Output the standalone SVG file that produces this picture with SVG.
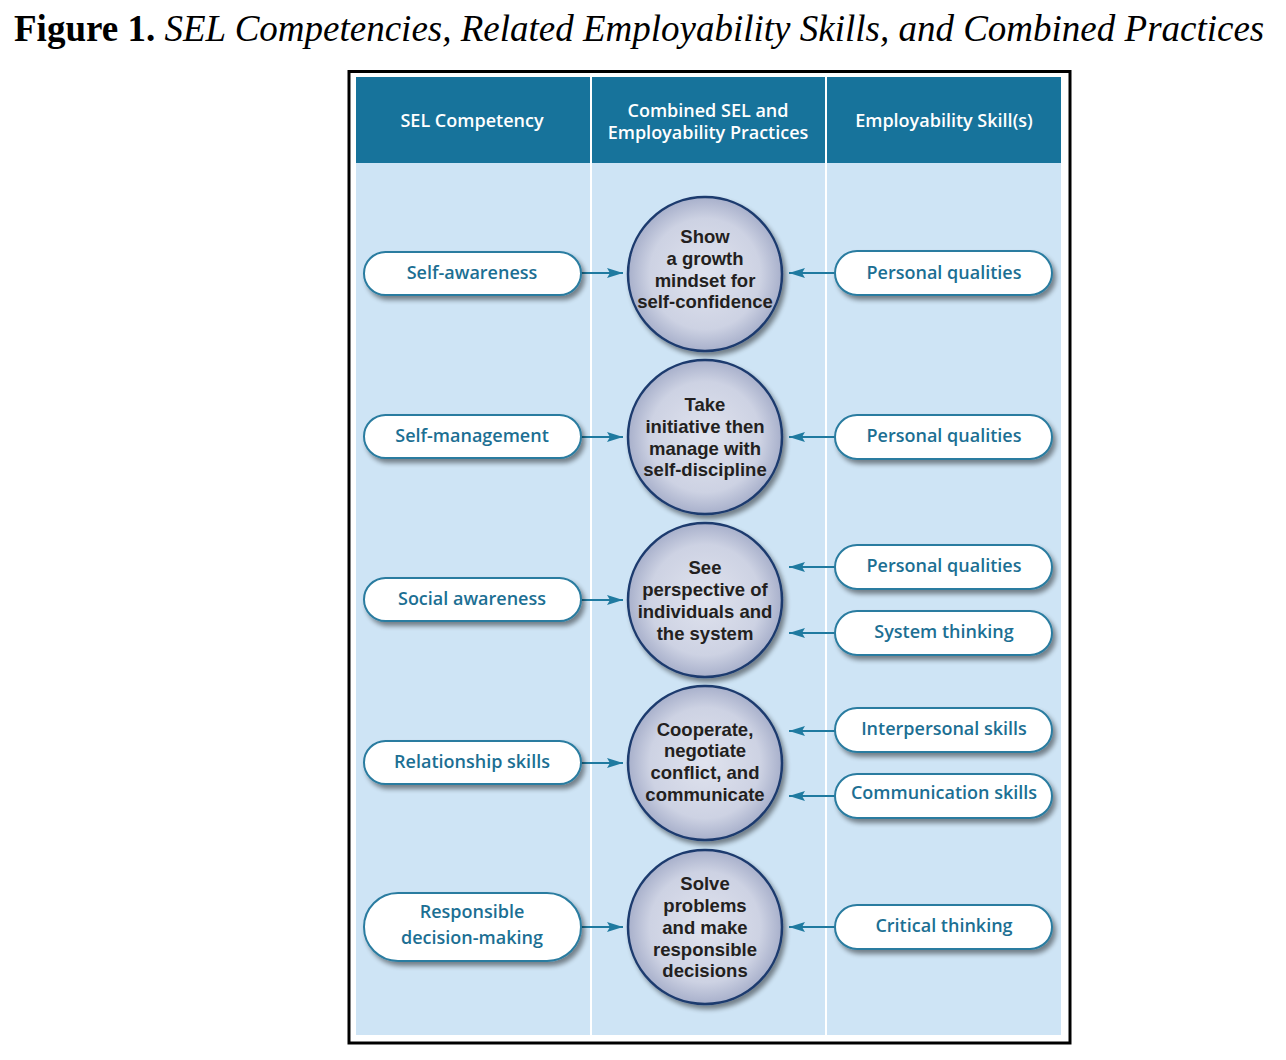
<svg xmlns="http://www.w3.org/2000/svg" width="1286" height="1060" viewBox="0 0 1286 1060">
<defs>
  <radialGradient id="cg" cx="50%" cy="50%" r="50%">
    <stop offset="0" stop-color="#e0e3ee"/>
    <stop offset="0.72" stop-color="#cdd2e3"/>
    <stop offset="1" stop-color="#a8b0cb"/>
  </radialGradient>
  <filter id="sh" x="-20%" y="-20%" width="150%" height="160%">
    <feGaussianBlur in="SourceAlpha" stdDeviation="2.5"/>
    <feOffset dx="3" dy="4" result="b"/>
    <feComponentTransfer><feFuncA type="linear" slope="0.45"/></feComponentTransfer>
    <feMerge><feMergeNode/><feMergeNode in="SourceGraphic"/></feMerge>
  </filter>
  <marker id="ah" viewBox="0 0 16 10" refX="16" refY="5" markerWidth="16" markerHeight="10" markerUnits="userSpaceOnUse" orient="auto">
    <path d="M0,0 L16,5 L0,10 L3,5 Z" fill="#1f7aa0"/>
  </marker>
</defs>
<style>
  .title{font-family:"Liberation Serif",serif;font-size:37px;fill:#000}
  .hdr{font-family:"Open Sans","Noto Sans",sans-serif;font-size:18px;font-weight:600;fill:#fff;text-anchor:middle}
  .pill{fill:#fff;stroke:#2a7ca0;stroke-width:2}
  .pt{font-family:"Open Sans","Noto Sans",sans-serif;font-size:18px;font-weight:600;fill:#1c6f93;text-anchor:middle}
  .circ{fill:url(#cg);stroke:#1c3a6e;stroke-width:2.5}
  .ct{font-family:"Liberation Sans",Arial,sans-serif;font-size:18.5px;font-weight:bold;fill:#231f20;text-anchor:middle}
  .conn line{stroke:#1f7aa0;stroke-width:2.2;marker-end:url(#ah)}
</style>
<rect width="1286" height="1060" fill="#fff"/>
<text class="title" x="14" y="41"><tspan font-weight="bold">Figure 1.</tspan><tspan font-style="italic"> SEL Competencies, Related Employability Skills, and Combined Practices</tspan></text>

<g id="frame">
  <rect x="349" y="71.5" width="721" height="971.5" fill="#fff" stroke="#000" stroke-width="3"/>
  <rect x="356" y="77" width="234" height="958" fill="#cee4f5"/>
  <rect x="592" y="77" width="233" height="958" fill="#cee4f5"/>
  <rect x="827" y="77" width="234" height="958" fill="#cee4f5"/>
  <rect x="356" y="77" width="234" height="86" fill="#17739b"/>
  <rect x="592" y="77" width="233" height="86" fill="#17739b"/>
  <rect x="827" y="77" width="234" height="86" fill="#17739b"/>
</g>
<g id="headers">
  <text class="hdr" x="472" y="127">SEL Competency</text>
  <text class="hdr" x="708" y="116.5"><tspan x="708">Combined SEL and</tspan><tspan x="708" dy="22">Employability Practices</tspan></text>
  <text class="hdr" x="944" y="127">Employability Skill(s)</text>
</g>

<g class="conn" id="connectors">
  <line x1="581" y1="273" x2="623" y2="273"/>
  <line x1="581" y1="437" x2="623" y2="437"/>
  <line x1="581" y1="600" x2="623" y2="600"/>
  <line x1="581" y1="763" x2="623" y2="763"/>
  <line x1="581" y1="927" x2="623" y2="927"/>
  <line x1="835" y1="273" x2="789" y2="273"/>
  <line x1="835" y1="437" x2="789" y2="437"/>
  <line x1="835" y1="567" x2="789" y2="567"/>
  <line x1="835" y1="633" x2="789" y2="633"/>
  <line x1="835" y1="731" x2="789" y2="731"/>
  <line x1="835" y1="796" x2="789" y2="796"/>
  <line x1="835" y1="927" x2="789" y2="927"/>
</g>

<g id="sel-self-awareness"><rect class="pill" filter="url(#sh)" x="364" y="252" width="217" height="43" rx="21.5"/><text class="pt" x="472" y="279">Self-awareness</text></g>
<g id="sel-self-management"><rect class="pill" filter="url(#sh)" x="364" y="415" width="217" height="43" rx="21.5"/><text class="pt" x="472" y="442">Self-management</text></g>
<g id="sel-social-awareness"><rect class="pill" filter="url(#sh)" x="364" y="578" width="217" height="43" rx="21.5"/><text class="pt" x="472" y="605">Social awareness</text></g>
<g id="sel-relationship"><rect class="pill" filter="url(#sh)" x="364" y="741" width="217" height="43" rx="21.5"/><text class="pt" x="472" y="768">Relationship skills</text></g>
<g id="sel-decision"><rect class="pill" filter="url(#sh)" x="364" y="893" width="217" height="68" rx="34"/><text class="pt" x="472" y="918"><tspan x="472">Responsible</tspan><tspan x="472" dy="26">decision-making</tspan></text></g>

<g id="c1"><circle class="circ" filter="url(#sh)" cx="705" cy="274" r="77"/><text class="ct" x="705" y="243"><tspan x="705">Show</tspan><tspan x="705" dy="22">a growth</tspan><tspan x="705" dy="22">mindset for</tspan><tspan x="705" dy="21">self-confidence</tspan></text></g>
<g id="c2"><circle class="circ" filter="url(#sh)" cx="705" cy="437" r="77"/><text class="ct" x="705" y="411"><tspan x="705">Take</tspan><tspan x="705" dy="22">initiative then</tspan><tspan x="705" dy="22">manage with</tspan><tspan x="705" dy="21">self-discipline</tspan></text></g>
<g id="c3"><circle class="circ" filter="url(#sh)" cx="705" cy="600" r="77"/><text class="ct" x="705" y="574"><tspan x="705">See</tspan><tspan x="705" dy="22">perspective of</tspan><tspan x="705" dy="22">individuals and</tspan><tspan x="705" dy="22">the system</tspan></text></g>
<g id="c4"><circle class="circ" filter="url(#sh)" cx="705" cy="763" r="77"/><text class="ct" x="705" y="736"><tspan x="705">Cooperate,</tspan><tspan x="705" dy="21">negotiate</tspan><tspan x="705" dy="22">conflict, and</tspan><tspan x="705" dy="22">communicate</tspan></text></g>
<g id="c5"><circle class="circ" filter="url(#sh)" cx="705" cy="927" r="77"/><text class="ct" x="705" y="890"><tspan x="705">Solve</tspan><tspan x="705" dy="22">problems</tspan><tspan x="705" dy="22">and make</tspan><tspan x="705" dy="22">responsible</tspan><tspan x="705" dy="21">decisions</tspan></text></g>

<g id="emp1"><rect class="pill" filter="url(#sh)" x="835" y="251" width="217" height="44" rx="22"/><text class="pt" x="944" y="279">Personal qualities</text></g>
<g id="emp2"><rect class="pill" filter="url(#sh)" x="835" y="415" width="217" height="44" rx="22"/><text class="pt" x="944" y="442">Personal qualities</text></g>
<g id="emp3"><rect class="pill" filter="url(#sh)" x="835" y="545" width="217" height="44" rx="22"/><text class="pt" x="944" y="572">Personal qualities</text></g>
<g id="emp4"><rect class="pill" filter="url(#sh)" x="835" y="611" width="217" height="44" rx="22"/><text class="pt" x="944" y="638">System  thinking</text></g>
<g id="emp5"><rect class="pill" filter="url(#sh)" x="835" y="708" width="217" height="44" rx="22"/><text class="pt" x="944" y="735">Interpersonal skills</text></g>
<g id="emp6"><rect class="pill" filter="url(#sh)" x="835" y="774" width="217" height="44" rx="22"/><text class="pt" x="944" y="799">Communication skills</text></g>
<g id="emp7"><rect class="pill" filter="url(#sh)" x="835" y="905" width="217" height="44" rx="22"/><text class="pt" x="944" y="932">Critical thinking</text></g>
</svg>
